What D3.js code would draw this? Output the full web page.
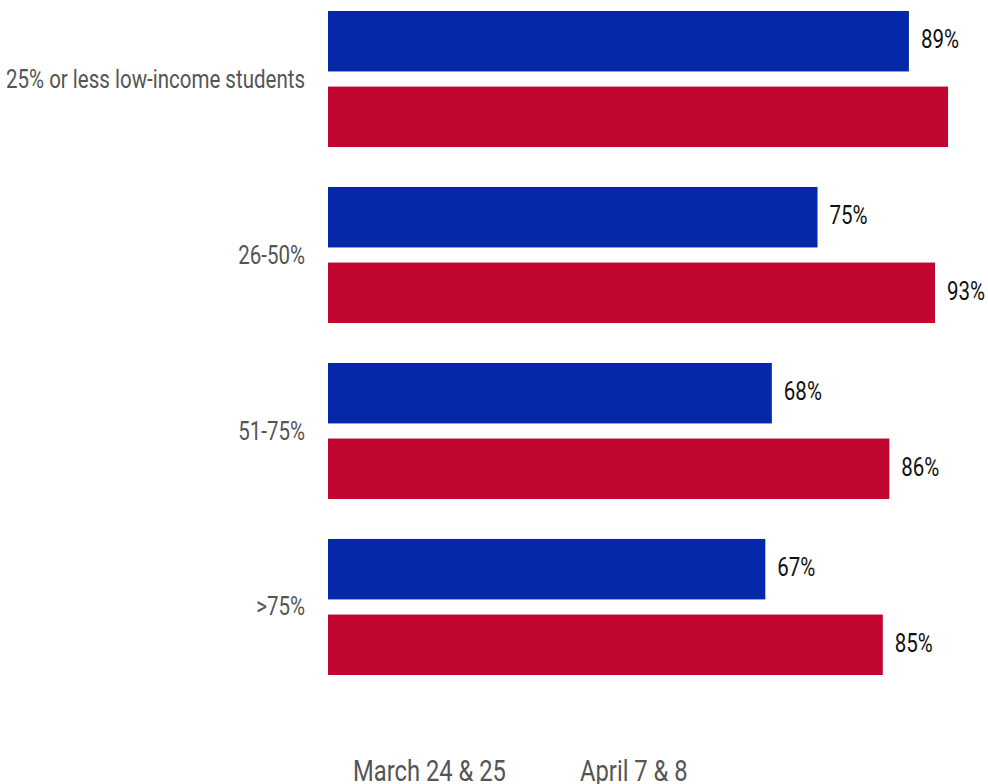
<!DOCTYPE html>
<html>
<head>
<meta charset="utf-8">
<script src="https://cdn.jsdelivr.net/npm/d3@7"></script>
<style>
  html, body { margin: 0; padding: 0; background: #fff; }
  svg { display: block; }
  svg text { font-family: Roboto, "Noto Sans", sans-serif; }
</style>
</head>
<body>
<svg id="chart" width="988" height="784"></svg>
<script>
// Share of schools, by low-income enrolment, across two survey dates
const categories = ["25% or less low-income students", "26-50%", "51-75%", ">75%"];
const seriesNames = ["March 24 & 25", "April 7 & 8"];
const marchValues = [89, 75, 68, 67];
const aprilValues = [95, 93, 86, 85];
const seriesColors = ["#0527a9", "#c0062f"];

const W = 988, H = 784;
// narrow the type horizontally for a condensed look
const narrow = "scale(0.82,1)";
const svg = d3.select("#chart");

const rows = categories.map((c, i) => ({
  category: c,
  values: [
    { series: seriesNames[0], value: marchValues[i] },
    { series: seriesNames[1], value: aprilValues[i] }
  ]
}));

const x = d3.scaleLinear().domain([0, 100]).range([328, 980.7]);
const y0 = d3.scaleBand().domain(categories).range([11, 675]).paddingInner(0.227).paddingOuter(0);
const y1 = d3.scaleBand().domain(seriesNames).range([0, y0.bandwidth()]).paddingInner(0.2);
const color = d3.scaleOrdinal().domain(seriesNames).range(seriesColors);

// Category labels on the left
const yAxis = d3.axisLeft(y0).tickSize(0).tickPadding(0);
const ya = svg.append("g").attr("transform", "translate(305,0)").call(yAxis);
ya.select(".domain").remove();
ya.selectAll("text")
  .attr("x", 0)
  .attr("dy", "0.34em")
  .attr("transform", narrow)
  .attr("fill", "#555")
  .style("font-size", "25px");

const groups = svg.append("g").selectAll("g")
  .data(rows)
  .join("g")
  .attr("transform", d => `translate(0,${y0(d.category)})`);

groups.selectAll("rect")
  .data(d => d.values)
  .join("rect")
  .attr("x", x(0))
  .attr("y", d => y1(d.series))
  .attr("height", y1.bandwidth())
  .attr("width", d => x(d.value) - x(0))
  .attr("fill", d => color(d.series));

groups.selectAll("g.val")
  .data(d => d.values)
  .join("g")
  .attr("class", "val")
  .attr("transform", d => `translate(${x(d.value) + 12},${y1(d.series) + y1.bandwidth() / 2})`)
  .append("text")
  .attr("transform", narrow)
  .attr("dy", "0.29em")
  .attr("fill", "#111")
  .style("font-size", "25px")
  .text(d => d.value + "%");

// drop value labels that would run past the edge of the drawing
groups.selectAll("g.val").each(function () {
  const r = this.getBoundingClientRect();
  if (r.right > W) d3.select(this).remove();
});

// Legend along the bottom
const legendX = d3.scalePoint().domain(seriesNames).range([353, 580]);
svg.append("g").selectAll("g")
  .data(seriesNames)
  .join("g")
  .attr("transform", d => `translate(${legendX(d)},781)`)
  .append("text")
  .attr("transform", narrow)
  .attr("fill", "#555")
  .style("font-size", "29px")
  .text(d => d);
</script>
</body>
</html>
